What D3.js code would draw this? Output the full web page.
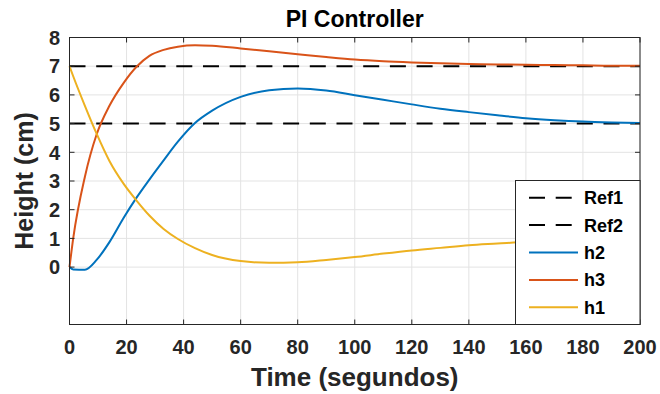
<!DOCTYPE html>
<html><head><meta charset="utf-8">
<script src="https://cdn.jsdelivr.net/npm/d3@7"></script>
<style>
html,body{margin:0;padding:0;background:#fff;}
svg{display:block;font-family:"Liberation Sans",Arial,Helvetica,sans-serif;}
</style></head>
<body><svg id="c" width="660" height="394"></svg>
<script>
// ---- data ----
const time = [0, 1.3, 5.4, 9.5, 14, 19, 23.5, 28, 33, 38, 44, 50, 60, 70, 80, 90, 100, 110, 120, 130, 140, 150, 160, 170, 180, 190, 200];
const h2 = [0, -0.08, -0.09, 0.25, 0.87, 1.72, 2.42, 3.05, 3.72, 4.37, 5.02, 5.45, 5.93, 6.16, 6.22, 6.15, 5.99, 5.83, 5.67, 5.52, 5.40, 5.29, 5.19, 5.12, 5.07, 5.04, 5.02];
const h3 = [0, 1.0, 3.15, 4.62, 5.62, 6.42, 6.98, 7.36, 7.57, 7.68, 7.73, 7.71, 7.62, 7.52, 7.42, 7.32, 7.23, 7.17, 7.13, 7.10, 7.08, 7.06, 7.05, 7.04, 7.03, 7.02, 7.02];
const h1 = [7, 6.65, 5.62, 4.65, 3.7, 2.9, 2.32, 1.8, 1.33, 0.98, 0.66, 0.42, 0.21, 0.15, 0.17, 0.25, 0.35, 0.47, 0.58, 0.67, 0.76, 0.82, 0.88, 0.92, 0.95, 0.97, 0.99];
const ref1 = 7;
const ref2 = 5;
const xTicks = [0, 20, 40, 60, 80, 100, 120, 140, 160, 180, 200];
const yTicks = [0, 1, 2, 3, 4, 5, 6, 7, 8];
const legendNames = ["Ref1", "Ref2", "h2", "h3", "h1"];

// ---- layout ----
const svg = d3.select("#c");
const L = 69.5, R = 640, T = 37.5, B = 324.5;
const x = d3.scaleLinear().domain([0, 200]).range([L, R]);
const y = d3.scaleLinear().domain([-2, 8]).range([B, T]);
const col = {h2: "#0072BD", h3: "#D95319", h1: "#EDB120", ref: "#000000"};
const axisCol = "#262626";

// grid
svg.append("g").selectAll("line").data(xTicks).join("line")
  .attr("x1", d => x(d)).attr("x2", d => x(d)).attr("y1", T).attr("y2", B)
  .attr("stroke", "#e3e3e3").attr("stroke-width", 1);
svg.append("g").selectAll("line").data(yTicks).join("line")
  .attr("x1", L).attr("x2", R).attr("y1", d => y(d)).attr("y2", d => y(d))
  .attr("stroke", "#e3e3e3").attr("stroke-width", 1);

// reference lines
const dash = "16,10.7";
[ref1, ref2].forEach(r => {
  svg.append("line").attr("x1", x(0)).attr("x2", x(200)).attr("y1", y(r)).attr("y2", y(r))
    .attr("stroke", col.ref).attr("stroke-width", 2).attr("stroke-dasharray", dash);
});

// series
const line = d3.line().x((d, i) => x(time[i])).y(d => y(d)).curve(d3.curveMonotoneX);
[[h2, col.h2], [h3, col.h3], [h1, col.h1]].forEach(([s, c]) => {
  svg.append("path").attr("d", line(s)).attr("fill", "none")
    .attr("stroke", c).attr("stroke-width", 2).attr("stroke-linejoin", "round");
});

// axes (box with inward ticks on all sides)
const ax = svg.append("g");
ax.append("rect").attr("x", L).attr("y", T).attr("width", R - L).attr("height", B - T)
  .attr("fill", "none").attr("stroke", axisCol).attr("stroke-width", 1);
const tl = 5;
xTicks.forEach(d => {
  ax.append("line").attr("x1", x(d)).attr("x2", x(d)).attr("y1", B).attr("y2", B - tl).attr("stroke", axisCol);
  ax.append("line").attr("x1", x(d)).attr("x2", x(d)).attr("y1", T).attr("y2", T + tl).attr("stroke", axisCol);
});
yTicks.forEach(d => {
  ax.append("line").attr("x1", L).attr("x2", L + tl).attr("y1", y(d)).attr("y2", y(d)).attr("stroke", axisCol);
  ax.append("line").attr("x1", R).attr("x2", R - tl).attr("y1", y(d)).attr("y2", y(d)).attr("stroke", axisCol);
});
ax.selectAll("text.xt").data(xTicks).join("text").attr("class", "xt")
  .attr("x", d => x(d)).attr("y", 354).attr("text-anchor", "middle")
  .attr("font-size", 20).attr("font-weight", "bold").attr("fill", axisCol).text(d => d);
ax.selectAll("text.yt").data(yTicks).join("text").attr("class", "yt")
  .attr("x", 60).attr("y", d => y(d)).attr("dy", "0.36em").attr("text-anchor", "end")
  .attr("font-size", 20).attr("font-weight", "bold").attr("fill", axisCol).text(d => d);

// labels
svg.append("text").attr("x", (L + R) / 2).attr("y", 27).attr("text-anchor", "middle")
  .attr("font-size", 23).attr("font-weight", "bold").attr("fill", "#000").text("PI Controller");
svg.append("text").attr("x", (L + R) / 2).attr("y", 386).attr("text-anchor", "middle")
  .attr("font-size", 26).attr("font-weight", "bold").attr("fill", axisCol).text("Time (segundos)");
svg.append("text").attr("transform", `translate(33,${(T + B) / 2}) rotate(-90)`).attr("text-anchor", "middle")
  .attr("font-size", 25).attr("font-weight", "bold").attr("fill", axisCol).text("Height (cm)");

// legend
const lg = svg.append("g");
lg.append("rect").attr("x", 515.5).attr("y", 180.5).attr("width", 640 - 515.5).attr("height", B - 180.5)
  .attr("fill", "#fff").attr("stroke", axisCol).attr("stroke-width", 1);
const lgStyles = [
  {c: col.ref, d: dash}, {c: col.ref, d: dash},
  {c: col.h2, d: null}, {c: col.h3, d: null}, {c: col.h1, d: null}
];
legendNames.forEach((n, i) => {
  const yy = 197.7 + i * 27.4;
  const ln = lg.append("line").attr("x1", 529).attr("x2", 578).attr("y1", yy).attr("y2", yy)
    .attr("stroke", lgStyles[i].c).attr("stroke-width", 2);
  if (lgStyles[i].d) ln.attr("stroke-dasharray", lgStyles[i].d);
  lg.append("text").attr("x", 584).attr("y", yy).attr("dy", "0.36em")
    .attr("font-size", 18).attr("font-weight", "bold").attr("fill", "#000").text(n);
});
</script></body></html>
